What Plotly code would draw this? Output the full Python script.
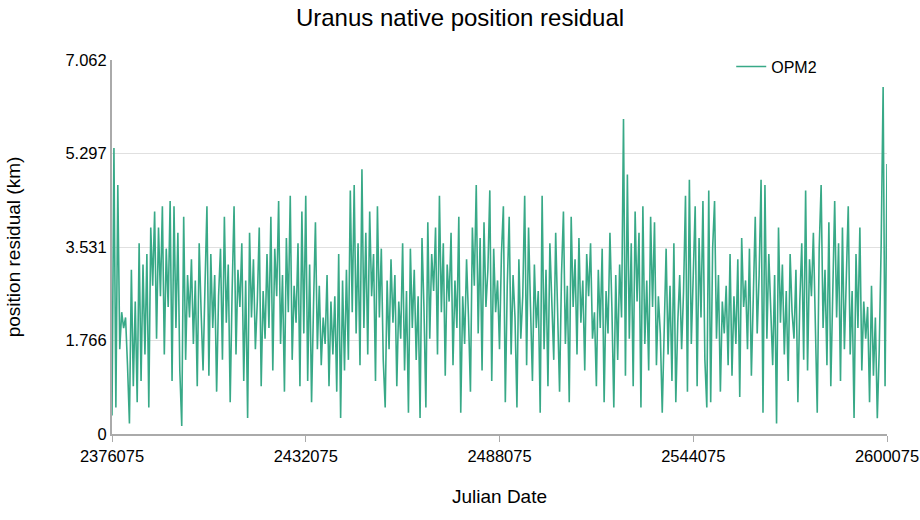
import plotly.graph_objects as go

jd_start = 2376075
jd_step = 560
x_tickvals = [2376075, 2432075, 2488075, 2544075, 2600075]
y_tickvals = [0, 1.766, 3.531, 5.297, 7.062]
y_ticktext = ["0", "1.766", "3.531", "5.297", "7.062"]

residual_km = [
    0.35, 5.4, 0.5, 4.7, 1.6, 2.3, 2.0, 2.2, 1.3, 0.2, 3.1, 0.9, 2.5, 0.6, 3.6, 1.0, 3.2, 1.5, 3.4, 0.5, 3.9,
    2.8, 4.2, 1.8, 3.9, 2.6, 4.3, 1.5, 3.5, 2.4, 4.4, 1.0, 4.3, 2.0, 3.8, 1.2, 0.15, 4.1, 1.4, 3.0, 2.2,
    3.3, 1.7, 2.9, 0.9, 3.6, 2.3, 1.2, 2.8, 4.3, 1.1, 3.4, 2.0, 3.0, 0.8, 2.6, 3.5, 1.4, 4.1, 2.1, 3.2,
    0.6, 2.7, 4.3, 1.5, 3.1, 2.4, 3.6, 1.0, 2.9, 0.3, 3.8, 2.2, 3.3, 1.6, 2.5, 3.9, 0.9, 2.7, 1.8, 3.4,
    2.0, 4.1, 1.2, 3.5, 2.6, 4.4, 1.7, 3.0, 0.8, 3.7, 2.3, 4.5, 1.4, 2.8, 2.1, 3.6, 0.9, 4.2, 1.9, 4.5,
    1.0, 3.2, 0.6, 2.4, 4.0, 1.6, 2.8, 1.3, 2.2, 1.7, 3.0, 0.9, 2.5, 1.5, 2.6, 0.8, 3.4, 0.3, 2.9, 1.2,
    3.1, 1.4, 4.6, 2.3, 4.7, 1.9, 3.6, 1.3, 5.0, 2.0, 3.8, 1.5, 4.2, 2.6, 3.4, 1.0, 4.3, 2.2, 3.5, 1.4,
    0.5, 2.9, 1.6, 3.3, 2.1, 3.0, 0.9, 2.5, 1.8, 3.6, 1.2, 2.7, 0.4, 3.5, 2.0, 3.1, 1.4, 2.6, 0.3, 3.7,
    2.4, 0.5, 4.0, 1.8, 3.4, 2.7, 3.9, 1.5, 4.5, 2.3, 3.6, 1.1, 3.2, 2.5, 3.8, 1.3, 2.9, 2.0, 4.1, 0.4,
    2.6, 1.7, 3.3, 2.2, 0.8, 3.9, 2.8, 4.7, 1.9, 3.7, 1.2, 4.0, 2.4, 3.1, 4.6, 1.0, 3.5, 2.3, 2.9, 1.6,
    3.4, 4.3, 0.6, 2.8, 4.1, 1.5, 3.0, 2.2, 0.5, 3.3, 1.8, 2.6, 4.5, 1.3, 3.9, 2.4, 1.0, 3.2, 2.0, 2.7,
    0.4, 4.5, 1.6, 3.1, 0.9, 3.6, 2.3, 1.4, 3.8, 2.0, 0.8, 3.0, 4.2, 1.7, 2.8, 0.6, 4.1, 2.4, 3.3, 1.5,
    3.7, 2.1, 2.9, 1.2, 3.4, 2.6, 3.6, 1.8, 2.3, 0.9, 3.1, 2.0, 3.5, 0.6, 2.7, 1.9, 3.8, 2.4, 0.5, 3.0,
    1.4, 3.2, 2.2, 5.95, 1.1, 4.9, 1.8, 3.6, 0.9, 4.2, 2.5, 3.8, 0.5, 4.3, 1.7, 2.9, 1.2, 4.1, 2.4, 4.0,
    1.3, 2.6, 1.9, 0.4, 2.3, 3.5, 1.5, 2.8, 1.0, 3.6, 0.6, 2.1, 3.0, 1.6, 2.7, 4.5, 0.8, 4.8, 1.7, 3.3,
    4.3, 0.9, 3.7, 2.2, 4.4, 1.4, 0.5, 4.6, 0.6, 3.5, 4.4, 1.8, 3.0, 0.8, 2.5, 1.9, 2.8, 1.3, 3.4, 1.1,
    2.6, 1.7, 3.3, 0.7, 3.7, 2.4, 2.9, 1.6, 3.5, 1.1, 2.6, 4.1, 1.9, 3.0, 4.8, 0.4, 4.7, 1.8, 3.4, 2.2,
    1.3, 3.0, 0.2, 3.9, 2.1, 3.2, 1.5, 2.7, 1.0, 3.4, 2.3, 1.8, 3.1, 0.6, 2.5, 3.6, 1.4, 4.6, 1.2, 3.3,
    2.6, 3.8, 1.7, 0.4, 3.5, 4.7, 2.0, 3.1, 1.3, 4.0, 0.9, 2.8, 4.4, 2.2, 3.6, 1.0, 3.9, 1.6, 2.9, 4.3,
    1.5, 2.7, 0.3, 3.4, 2.0, 3.9, 1.2, 2.5, 1.8, 2.4, 0.6, 2.8, 1.1, 2.2, 0.3, 1.6, 3.6, 6.55, 0.9, 5.1,
]

julian_dates = [jd_start + i * jd_step for i in range(len(residual_km))]

font_family = "Liberation Sans, Arial, sans-serif"

fig = go.Figure()
fig.add_trace(go.Scatter(
    x=julian_dates, y=residual_km, mode="lines", name="OPM2",
    line=dict(color="#38a987", width=1.6),
))

fig.update_layout(
    width=920, height=520,
    margin=dict(l=112, r=33, t=60, b=86, autoexpand=False),
    paper_bgcolor="white", plot_bgcolor="white",
    font=dict(family=font_family, color="#000000", size=16),
    title=dict(text="Uranus native position residual", x=0.5, xanchor="center",
               y=0.967, yanchor="middle", font=dict(size=24, family=font_family)),
    showlegend=True,
    legend=dict(x=0.799, y=1.028, xanchor="left", yanchor="top",
                bgcolor="rgba(0,0,0,0)", font=dict(size=16)),
    xaxis=dict(
        range=[2376075, 2600075], tickvals=x_tickvals,
        ticktext=[str(v) for v in x_tickvals],
        showgrid=False, zeroline=False, automargin=False,
        showline=True, linecolor="#aaaaaa", linewidth=2,
        ticks="outside", ticklen=6, tickcolor="#aaaaaa",
        tickfont=dict(size=16.5),
        title=dict(text="Julian Date", font=dict(size=19), standoff=26),
    ),
    yaxis=dict(
        range=[0, 7.062], tickvals=y_tickvals, ticktext=y_ticktext,
        showgrid=True, gridcolor="#e0e0e0", gridwidth=1, zeroline=False,
        automargin=False,
        showline=True, linecolor="#aaaaaa", linewidth=2,
        ticks="", tickfont=dict(size=16.5),
        title=dict(text="position residual (km)", font=dict(size=19), standoff=40),
    ),
)

fig.write_html("out.html")
